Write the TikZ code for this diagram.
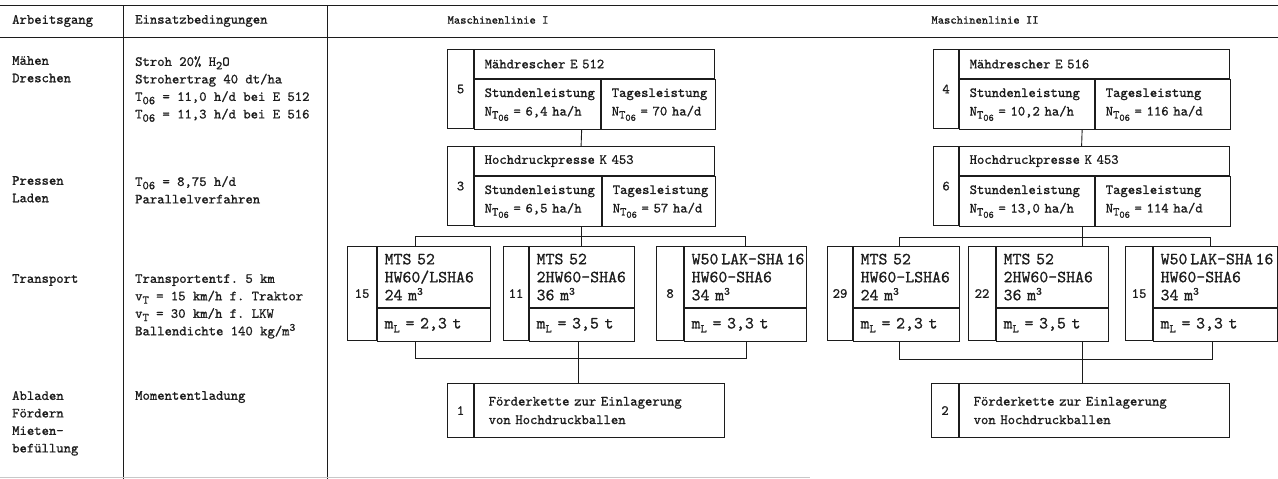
\documentclass[tikz,border=0pt]{standalone}
\usepackage{fontspec}
\setmonofont{lmmono10-regular.otf}[FakeBold=1]
\usetikzlibrary{calc}
\definecolor{ink}{HTML}{1C1C1C}
\definecolor{faint}{HTML}{C8C8C8}
\newcommand\tw{\ttfamily\fontsize{14}{17.5}\selectfont\lineskiplimit=-9pt}
\newcommand\twm{\ttfamily\fontsize{14}{18.5}\selectfont\lineskiplimit=-9pt}
\newcommand\twl{\ttfamily\fontsize{17}{18}\selectfont\lineskiplimit=-9pt}
\newcommand\tws{\ttfamily\fontsize{12}{14}\selectfont}
\newcommand\NT{N\raisebox{-.5ex}{\fontsize{12}{12}\selectfont T\raisebox{-.45ex}{\fontsize{10}{10}\selectfont 06}}}
\newcommand\lo[1]{\raisebox{-.55ex}{\fontsize{12}{12}\selectfont #1}}
\newcommand\hi[1]{\raisebox{.75ex}{\fontsize{11}{11}\selectfont #1}}
\tikzset{
  rule/.style ={line width=1pt, draw=ink},
  cell/.style ={draw=ink, line width=1.1pt, anchor=north west, inner sep=0pt, text=ink, font=\twm},
  nc/.style   ={cell, minimum width=#1, align=center},
  tc/.style   ={cell, text width=#1, align=left, inner xsep=10pt},
  trc/.style  ={cell, font=\twl, text width=#1, align=left, inner xsep=7pt},
  fc/.style   ={cell, text width=#1, align=left, inner xsep=14pt},
  txt/.style  ={anchor=north west, inner sep=0pt, align=left, font=\tw, text=ink},
  conn/.style ={line width=.9pt, draw=ink},
}
\begin{document}
\begin{tikzpicture}[x=1pt,y=-1pt]
  \useasboundingbox (0,0) rectangle (1278,479);
  % table rules
  \draw[rule] (0,5) -- (1278,5);
  \draw[rule] (0,37) -- (1278,37);
  \draw[rule] (123,5) -- (123,479);
  \draw[rule] (327,5) -- (327,479);
  \draw[line width=.8pt, draw=faint] (0,477) -- (810,477);

  % headers
  \node[txt, anchor=west] (hA) at (12,21) {Arbeitsgang};
  \node[txt, anchor=west] (hE) at (135,21) {Einsatzbedingungen};
  \node[txt, font=\tws, anchor=center] (hI) at (498,20) {Maschinenlinie I};
  \node[txt, font=\tws, anchor=center] (hII) at (985,20) {Maschinenlinie II};

  % Arbeitsgang
  \node[txt] (aMd) at (12,56) {Mähen\\Dreschen};
  \node[txt] (aPl) at (12,176) {Pressen\\Laden};
  \node[txt] (aTr) at (12,274) {Transport};
  \node[txt] (aAb) at (12,391) {Abladen\\Fördern\\Mieten-\\befüllung};

  % Einsatzbedingungen
  \node[txt] (eMd) at (135,56) {Stroh 20\% H\lo{2}O\\Strohertrag 40 dt/ha\\T\lo{06} = 11,0 h/d bei E 512\\T\lo{06} = 11,3 h/d bei E 516};
  \node[txt] (ePl) at (135,176) {T\lo{06} = 8,75 h/d\\Parallelverfahren};
  \node[txt] (eTr) at (135,274) {Transportentf. 5 km\\v\lo{T} = 15 km/h f. Traktor\\v\lo{T} = 30 km/h f. LKW\\Ballendichte 140 kg/m\hi{3}};
  \node[txt] (eAb) at (135,391) {Momententladung};

  % Maschinenlinie I
  \node[nc=26pt, minimum height=79pt] (mdI) at (447,49) {5};
  \node[tc=220pt, minimum height=29pt] (mdIt) at (mdI.north east) {Mähdrescher E 512};
  \node[tc=106pt, minimum height=50pt] (mdIs) at (mdIt.south west) {Stundenleistung\\\NT{}~=~6,4~ha/h};
  \node[tc=94pt, minimum height=50pt] (mdIg) at (mdIs.north east) {Tagesleistung\\\NT{}~=~70~ha/d};

  \node[nc=26pt, minimum height=79pt] (kpI) at (447,146) {3};
  \node[tc=220pt, minimum height=29pt] (kpIt) at (kpI.north east) {Hochdruckpresse K 453};
  \node[tc=107pt, minimum height=50pt] (kpIs) at (kpIt.south west) {Stundenleistung\\\NT{}~=~6,5~ha/h};
  \node[tc=93pt, minimum height=50pt] (kpIg) at (kpIs.north east) {Tagesleistung\\\NT{}~=~57~ha/d};

  \node[nc=29pt, minimum height=94pt] (trIa) at (347,246) {15};
  \node[trc=99pt, minimum height=61pt] (trIau) at (trIa.north east) {MTS 52\\HW60/LSHA6\\24 m\hi{3}};
  \node[trc=99pt, minimum height=33pt] (trIal) at (trIau.south west) {m\lo{L} = 2,3 t};
  \node[nc=25pt, minimum height=94pt] (trIb) at (503,246) {11};
  \node[trc=91pt, minimum height=61pt] (trIbu) at (trIb.north east) {MTS 52\\2HW60-SHA6\\36 m\hi{3}};
  \node[trc=91pt, minimum height=33pt] (trIbl) at (trIbu.south west) {m\lo{L} = 3,5 t};
  \node[nc=27pt, minimum height=94pt] (trIc) at (656,246) {8};
  \node[trc=108pt, minimum height=61pt] (trIcu) at (trIc.north east) {W50\,LAK-SHA\,16\\HW60-SHA6\\34 m\hi{3}};
  \node[trc=108pt, minimum height=33pt] (trIcl) at (trIcu.south west) {m\lo{L} = 3,3 t};

  \node[nc=26pt, minimum height=54pt] (fkI) at (447,383) {1};
  \node[fc=222pt, minimum height=54pt] (fkIt) at (fkI.north east) {Förderkette zur Einlagerung\\von Hochdruckballen};

  % Maschinenlinie II
  \node[nc=25pt, minimum height=79pt] (mdII) at (933,49) {4};
  \node[tc=250pt, minimum height=29pt] (mdIIt) at (mdII.north east) {Mähdrescher E 516};
  \node[tc=115pt, minimum height=50pt] (mdIIs) at (mdIIt.south west) {Stundenleistung\\\NT{}~=~10,2~ha/h};
  \node[tc=115pt, minimum height=50pt] (mdIIg) at (mdIIs.north east) {Tagesleistung\\\NT{}~=~116~ha/d};

  \node[nc=25pt, minimum height=79pt] (kpII) at (933,146) {6};
  \node[tc=250pt, minimum height=29pt] (kpIIt) at (kpII.north east) {Hochdruckpresse K 453};
  \node[tc=115pt, minimum height=50pt] (kpIIs) at (kpIIt.south west) {Stundenleistung\\\NT{}~=~13,0~ha/h};
  \node[tc=115pt, minimum height=50pt] (kpIIg) at (kpIIs.north east) {Tagesleistung\\\NT{}~=~114~ha/d};

  \node[nc=25pt, minimum height=94pt] (trIIa) at (827,246) {29};
  \node[trc=92pt, minimum height=61pt] (trIIau) at (trIIa.north east) {MTS 52\\HW60-LSHA6\\24 m\hi{3}};
  \node[trc=92pt, minimum height=33pt] (trIIal) at (trIIau.south west) {m\lo{L} = 2,3 t};
  \node[nc=27pt, minimum height=94pt] (trIIb) at (968,246) {22};
  \node[trc=98pt, minimum height=61pt] (trIIbu) at (trIIb.north east) {MTS 52\\2HW60-SHA6\\36 m\hi{3}};
  \node[trc=98pt, minimum height=33pt] (trIIbl) at (trIIbu.south west) {m\lo{L} = 3,5 t};
  \node[nc=27pt, minimum height=94pt] (trIIc) at (1125,246) {15};
  \node[trc=110pt, minimum height=61pt] (trIIcu) at (trIIc.north east) {W50\,LAK-SHA\,16\\HW60-SHA6\\34 m\hi{3}};
  \node[trc=110pt, minimum height=33pt] (trIIcl) at (trIIcu.south west) {m\lo{L} = 3,3 t};

  \node[nc=27pt, minimum height=54pt] (fkII) at (931,383) {2};
  \node[fc=242pt, minimum height=54pt] (fkIIt) at (fkII.north east) {Förderkette zur Einlagerung\\von Hochdruckballen};

  % Verbindungen Linie I
  \coordinate (tIa) at (415,236);
  \coordinate (tIc) at (745,236);
  \coordinate (bIa) at (415,358);
  \coordinate (bIb) at (578,358);
  \coordinate (bIc) at (746,358);
  \draw[conn] ($(mdI.south west)!.5!(mdIg.south east)$) -- ($(kpI.north west)!.5!(kpIt.north east)$);
  \draw[conn] ($(kpI.south west)!.5!(kpIg.south east)$) coordinate (kpIm) -- (kpIm |- tIa);
  \draw[conn] (tIa |- trIau.north) -- (tIa) -- (tIc) -- (tIc |- trIcu.north);
  \draw[conn] (kpIm |- tIa) -- (kpIm |- trIbu.north);
  \draw[conn] (bIa |- trIal.south) -- (bIa) -- (bIc) -- (bIc |- trIcl.south);
  \draw[conn] (bIb |- trIbl.south) -- (bIb |- fkIt.north);

  % Verbindungen Linie II
  \coordinate (tIIa) at (899,237);
  \coordinate (tIIc) at (1210,237);
  \coordinate (bIIa) at (899,359);
  \coordinate (bIIb) at (1082,359);
  \coordinate (bIIc) at (1212,359);
  \draw[conn] ($(mdII.south west)!.5!(mdIIg.south east)$) -- ($(kpII.north west)!.5!(kpIIt.north east)$);
  \draw[conn] ($(kpII.south west)!.5!(kpIIg.south east)$) coordinate (kpIIm) -- (kpIIm |- tIIa);
  \draw[conn] (tIIa |- trIIau.north) -- (tIIa) -- (tIIc) -- (tIIc |- trIIcu.north);
  \draw[conn] (kpIIm |- tIIa) -- (kpIIm |- trIIbu.north);
  \draw[conn] (bIIa |- trIIal.south) -- (bIIa) -- (bIIc) -- (bIIc |- trIIcl.south);
  \draw[conn] (bIIb |- trIIbl.south) -- (bIIb |- fkIIt.north);
\end{tikzpicture}
\end{document}
